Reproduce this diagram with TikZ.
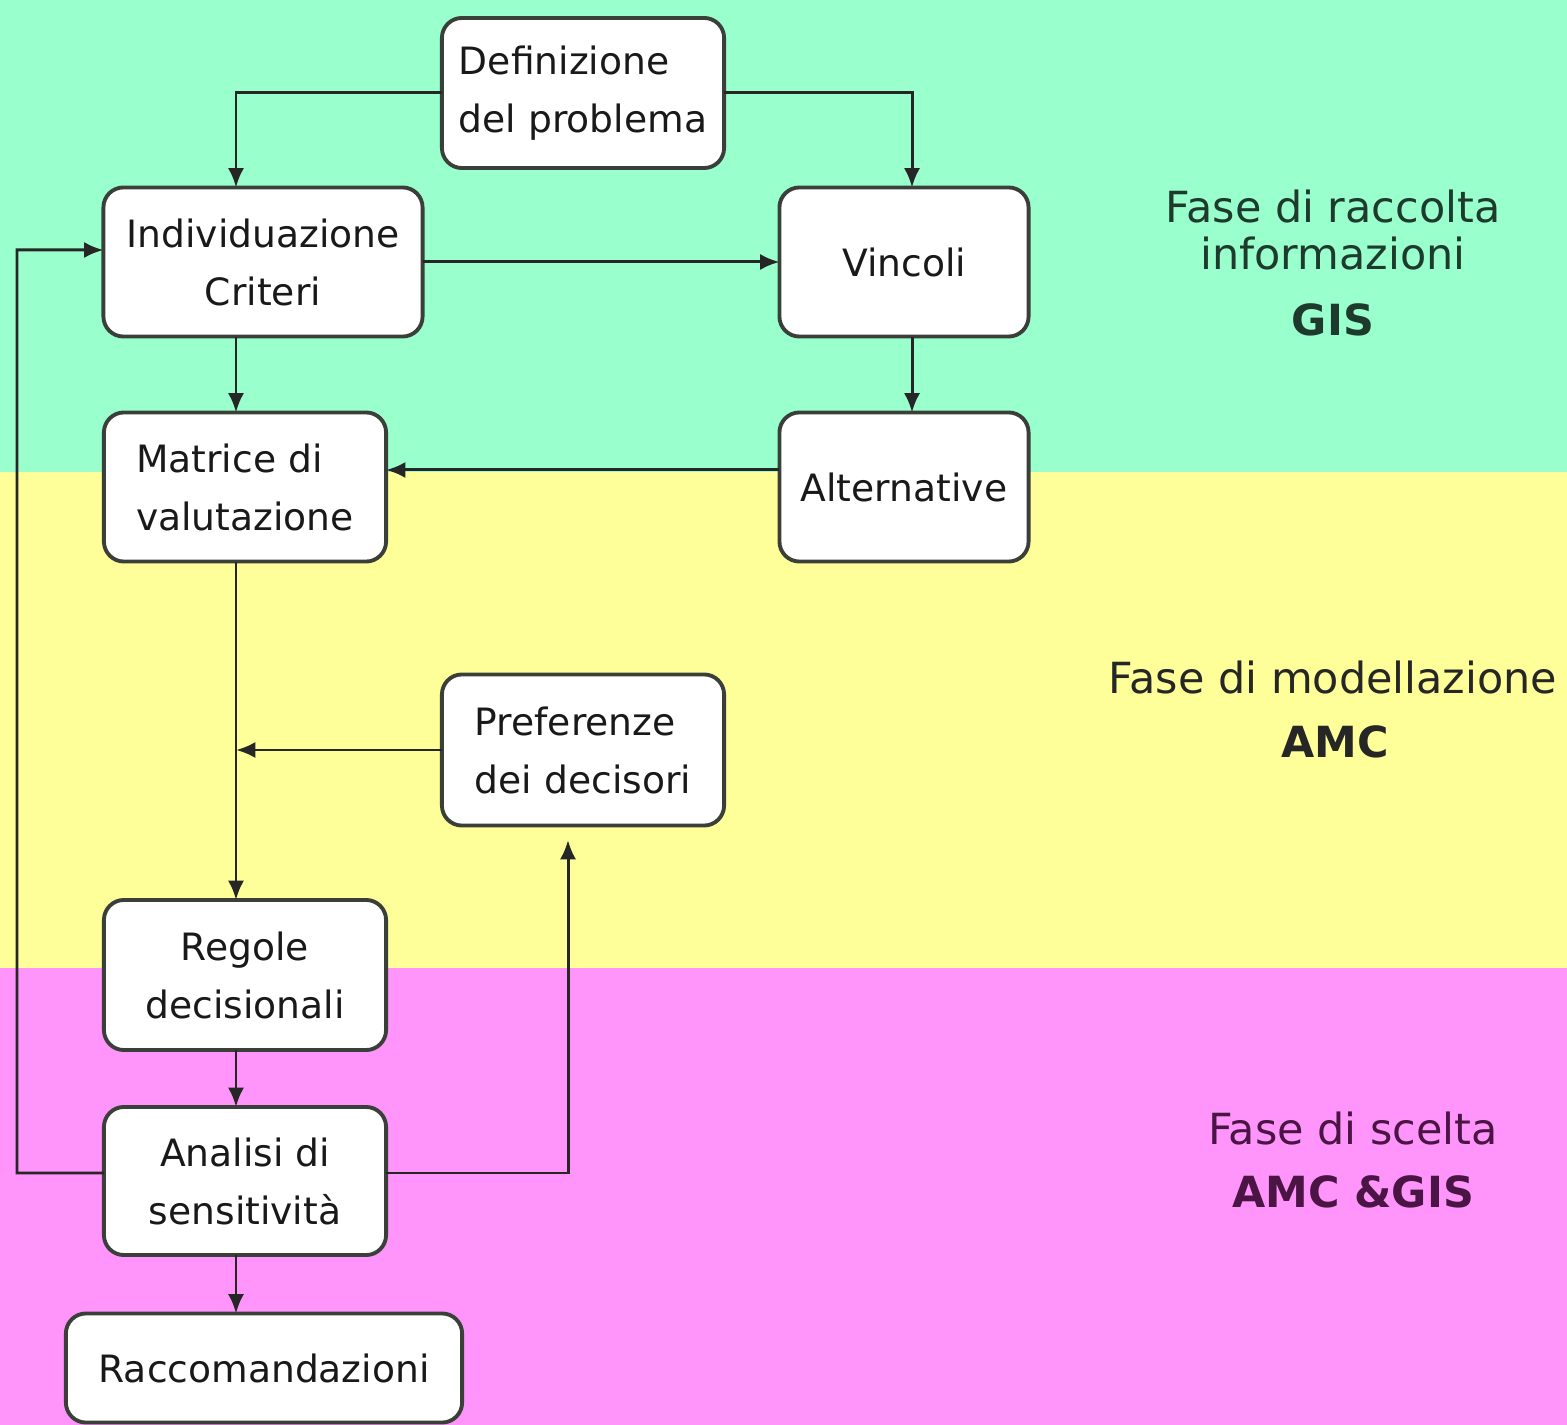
\documentclass[tikz,border=0pt]{standalone}
\usepackage{fontspec}
\setmainfont{DejaVu Sans}
\usepackage{xcolor}
\usetikzlibrary{arrows.meta, positioning}

\definecolor{bandgreen}{HTML}{99FFCC}
\definecolor{bandyellow}{HTML}{FFFF99}
\definecolor{bandpink}{HTML}{FF94FA}
\definecolor{boxline}{HTML}{3A3F3A}
\definecolor{greentext}{HTML}{1E3A2C}
\definecolor{pinktext}{HTML}{4A1444}

\begin{document}
\begin{tikzpicture}[x=0.01cm, y=-0.01cm,
  box/.style={draw=boxline, line width=1.1pt, rounded corners=0.2cm, fill=white,
    align=center, inner sep=0pt, outer sep=0pt, text=black!90,
    font=\fontsize{10.7}{16.5}\selectfont},
  link/.style={line width=0.85pt, black!85, -{Latex[length=5.5pt, width=4.6pt]}},
  phase/.style={align=center, font=\fontsize{12.2}{13.1}\selectfont},
  phasebold/.style={font=\fontsize{12.2}{13.1}\selectfont\bfseries}]
% Define constants
\def\pageW{1567}
\def\pageH{1425}
\def\greenEnd{472}
\def\yellowEnd{968}

% Draw background bands
\fill[bandgreen] (0,0) rectangle (\pageW,\greenEnd);
\fill[bandyellow] (0,\greenEnd) rectangle (\pageW,\yellowEnd);
\fill[bandpink] (0,\yellowEnd) rectangle (\pageW,\pageH);
\useasboundingbox (0,0) rectangle (\pageW,\pageH);

% Boxes
\node[box, align=left, minimum width=2.82cm, minimum height=1.50cm] (problema) at (583,93) {Definizione\\del problema};
\node[box, minimum width=3.19cm, minimum height=1.49cm] (criteri) at (263,262) {Individuazione\\Criteri};
\node[box, minimum width=2.49cm, minimum height=1.49cm] (vincoli) at (904,262) {Vincoli};
\node[box, align=left, minimum width=2.82cm, minimum height=1.49cm] (matrice) at (245,487) {Matrice di\\valutazione};
\node[box, minimum width=2.49cm, minimum height=1.49cm] (alternative) at (904,487) {Alternative};
\node[box, align=left, minimum width=2.82cm, minimum height=1.51cm] (preferenze) at (583,750) {Preferenze\\dei decisori};
\node[box, minimum width=2.82cm, minimum height=1.50cm] (regole) at (245,975) {Regole\\decisionali};
\node[box, minimum width=2.82cm, minimum height=1.48cm] (analisi) at (245,1181) {Analisi di\\sensitivit\`a};
\node[box, minimum width=3.96cm, minimum height=1.09cm] (raccomandazioni) at (264,1368) {Raccomandazioni};

% Coordinates for the vertical runs
\coordinate (spine) at (236,0);
\coordinate (rspine) at (912,0);
\coordinate (lback) at (17,250);
\coordinate (rback) at (568,840);

% Draw connectors
\draw[link] (problema.west) -| (criteri.north -| spine);
\draw[link] (problema.east) -| (vincoli.north -| rspine);
\draw[link] (criteri.east) -- (vincoli.west);
\draw[link] (criteri.south -| spine) -- (matrice.north -| spine);
\draw[link] (vincoli.south -| rspine) -- (alternative.north -| rspine);
\draw[link] ([yshift=0.17cm]alternative.west) -- ([yshift=0.17cm]alternative.west -| matrice.east);
\draw[link] (matrice.south -| spine) -- (regole.north -| spine);
\draw[link] (preferenze.west) -- (preferenze.west -| spine);
\draw[link] (regole.south -| spine) -- (analisi.north -| spine);
\draw[link] (analisi.south -| spine) -- (raccomandazioni.north -| spine);

% Feedback loops from the sensitivity analysis
\draw[link] ([yshift=0.08cm]analisi.west) -| (lback) -- ([yshift=0.12cm]criteri.west);
\draw[link] ([yshift=0.08cm]analisi.east) -| (rback);

% Phase labels
\node[phase, text=greentext] (raccolta) at (1333,230) {Fase di raccolta\\informazioni};
\node[phasebold, text=greentext] (gis) at (1333,320) {GIS};
\node[phase, text=black!85] (modellazione) at (1333,678) {Fase di modellazione};
\node[phasebold, text=black!85] (amc) at (1335,742) {AMC};
\node[phase, text=pinktext] (scelta) at (1353,1128) {Fase di scelta};
\node[phasebold, text=pinktext] (amcgis) at (1353,1192) {AMC \&GIS};

\end{tikzpicture}
\end{document}
